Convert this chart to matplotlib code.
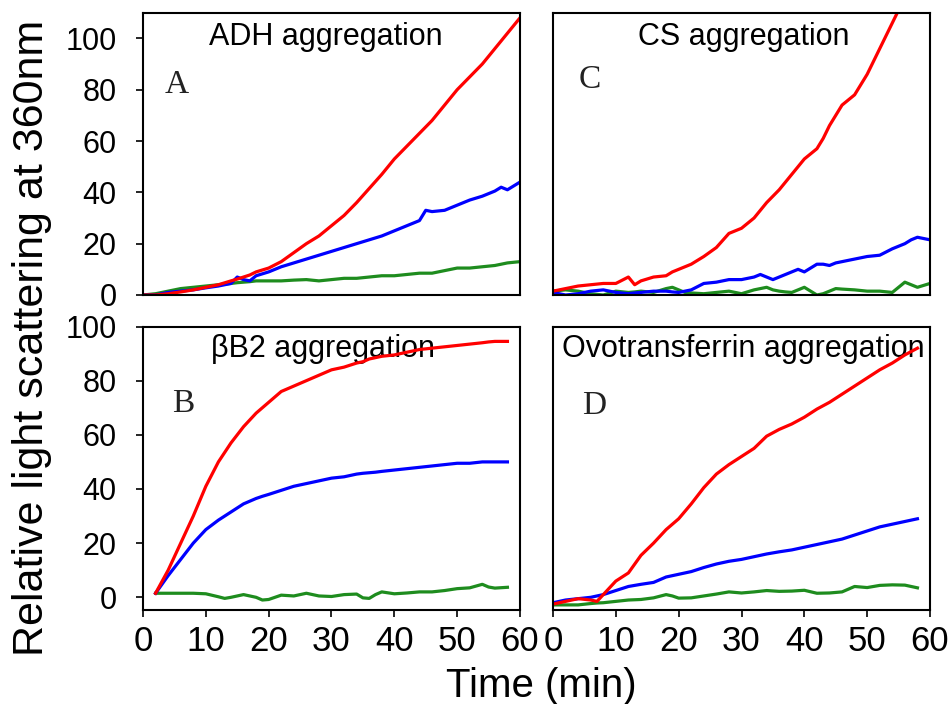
import matplotlib
matplotlib.use("Agg")
import matplotlib.pyplot as plt

plt.rcParams['font.family'] = ['Liberation Sans', 'DejaVu Sans']

# panel A - ADH aggregation
t_a = [0, 2, 4, 6, 8, 10, 12, 14, 15, 16, 17, 18, 20, 22, 24, 26, 28, 30, 32, 34, 36, 38, 40,
       42, 44, 45, 46, 48, 50, 52, 54, 56, 57, 58, 60]
a_red = [0, 0, 0.5, 1.2, 2, 3, 4, 5.5, 6.2, 7, 7.8, 9, 10.5, 13, 16.5, 20, 23, 27, 31, 36, 41.5, 47, 53,
         58, 63, 65.5, 68, 74, 80, 85, 90, 96, 99, 102, 108]
a_blue = [0, 0, 1, 1.5, 2, 2.8, 3.5, 4.5, 7, 6, 5.5, 7.5, 9, 11, 12.5, 14, 15.5, 17, 18.5, 20, 21.5, 23, 25,
          27, 29, 33, 32.5, 33, 35, 37, 38.5, 40.5, 42, 41, 44]
a_green = [0, 0.5, 1.5, 2.5, 3, 3.5, 4, 4.5, 4.8, 5, 5.2, 5.5, 5.5, 5.5, 5.8, 6, 5.5, 6, 6.5, 6.5, 7, 7.5, 7.5,
           8, 8.5, 8.5, 8.5, 9.5, 10.5, 10.5, 11, 11.5, 12, 12.5, 13]

# panel C - CS aggregation
t_c = [0, 2, 4, 6, 8, 10, 12, 13, 14, 16, 18, 19, 20, 21, 22, 24, 26, 28, 30, 32, 33, 34, 35, 36, 37, 38,
       39, 40, 42, 43, 44, 45, 46, 48, 50, 52, 54, 56, 57, 58, 60]
c_red = [1.5, 2.5, 3.5, 4, 4.5, 4.5, 7, 4, 5.5, 7, 7.5, 9, 10, 11, 12, 15, 18.5, 24, 26, 30, 33, 36, 38.5, 41,
         44, 47, 50, 53, 57, 61, 66, 70, 74, 78, 86, 96, 106, 116, 121, 126, 136]
c_blue = [1, 0, 0.5, 1.5, 2, 1, 0.5, 0.8, 1, 1.5, 1.5, 1.2, 1, 1.5, 2, 4.5, 5, 6, 6, 7, 8, 7, 6, 7, 8, 9,
          10, 9, 12, 12, 11.5, 12.5, 13, 14, 15, 15.5, 18, 20, 21.5, 22.5, 21.5]
c_green = [1.5, 2, 1.5, 0.5, 0, 1.5, 1, 1.2, 1.5, 1, 2.5, 3, 2, 1, 0.8, 0.5, 1, 1.5, 0.5, 2, 2.5, 3, 2, 1.5,
           1.2, 1, 2, 3, 0, 0.5, 1.5, 2.5, 2.3, 2, 1.5, 1.5, 1, 5, 4, 3, 4.5]

# panel B - betaB2 aggregation
t_b = [2, 4, 6, 8, 10, 12, 13, 14, 16, 18, 19, 20, 22, 24, 26, 28, 30, 32, 34, 35, 36, 37, 38, 40,
       42, 44, 46, 48, 50, 52, 54, 55, 56, 58]
b_red = [1.5, 10, 20, 30, 41, 50, 53.5, 57, 63, 68, 70, 72, 76, 78, 80, 82, 84, 85, 86.5, 87, 88, 88.5, 89, 89.5,
         90.5, 91.5, 92, 92.5, 93, 93.5, 94, 94.3, 94.5, 94.5]
b_blue = [1.5, 8, 14, 20, 25, 28.5, 30, 31.5, 34.5, 36.5, 37.3, 38, 39.5, 41, 42, 43, 44, 44.5, 45.5, 45.8, 46,
          46.2, 46.5, 47, 47.5, 48, 48.5, 49, 49.5, 49.5, 50, 50, 50, 50]
b_green = [1.5, 1.5, 1.5, 1.5, 1.3, 0.2, -0.4, 0, 1, 0, -1, -0.8, 0.8, 0.5, 1.5, 0.5, 0.3, 1, 1.2, -0.2, -0.4,
           1, 2, 1.3, 1.6, 2, 2, 2.5, 3.2, 3.5, 4.8, 3.8, 3.4, 3.7]

# panel D - Ovotransferrin aggregation
t_d = [0, 2, 4, 6, 7, 8, 10, 12, 14, 16, 18, 19, 20, 22, 24, 26, 28, 30, 32, 34, 36, 38, 40, 42, 44, 46,
       48, 50, 52, 54, 56, 58]
d_red = [-2.5, -1.5, -0.5, -1, -1.5, 1, 6, 9, 15.5, 20, 25, 27, 29, 34.5, 40.5, 45.5, 49, 52, 55, 59.5, 62, 64,
         66.5, 69.5, 72, 75, 78, 81, 84, 86.5, 89.5, 92]
d_blue = [-2, -1, -0.5, 0, 0.5, 1, 2.5, 4, 4.8, 5.5, 7.5, 8, 8.5, 9.5, 11, 12.3, 13.3, 14, 15, 16, 16.8, 17.5,
          18.5, 19.5, 20.5, 21.5, 23, 24.5, 26, 27, 28, 29]
d_green = [-2.8, -2.8, -2.8, -2.3, -2.1, -2, -1.5, -1, -0.8, -0.2, 1, 0.5, -0.3, -0.2, 0.5, 1.2, 2, 1.6, 2, 2.5,
           2.2, 2.3, 2.6, 1.5, 1.6, 2, 4, 3.6, 4.4, 4.6, 4.5, 3.5]

panel_titles = ["ADH aggregation", "CS aggregation", "\u03b2B2 aggregation", "Ovotransferrin aggregation"]
panel_letters = ["A", "C", "B", "D"]
xticks = [0, 10, 20, 30, 40, 50, 60]
yticks = [0, 20, 40, 60, 80, 100]

RED = "#ff0000"
BLUE = "#0000ff"
GREEN = "#1e8c1e"

fig = plt.figure(figsize=(9.5, 7.04), dpi=100)

# axes rectangles [left, bottom, width, height] in figure fractions
W, H = 950.0, 704.0
rects = [
    [143 / W, 1 - 295 / H, 377 / W, 282.3 / H],    # A
    [553 / W, 1 - 295 / H, 377 / W, 282.3 / H],    # C
    [143 / W, 1 - 609.5 / H, 377 / W, 283 / H],    # B
    [553 / W, 1 - 609.5 / H, 377 / W, 283 / H],    # D
]
data = [
    (t_a, a_red, a_blue, a_green),
    (t_c, c_red, c_blue, c_green),
    (t_b, b_red, b_blue, b_green),
    (t_d, d_red, d_blue, d_green),
]
ylims = [(0, 110), (0, 110), (-4.5, 100), (-4.5, 100)]
title_pos = [(0.485, 0.886), (0.507, 0.886), (0.477, 0.893), (0.504, 0.892)]
letter_pos = [(0.09, 0.716), (0.098, 0.733), (0.106, 0.699), (0.108, 0.691)]

for i in range(4):
    ax = fig.add_axes(rects[i])
    t, r, b, g = data[i]
    ax.plot(t, g, color=GREEN, lw=2.3)
    ax.plot(t, b, color=BLUE, lw=2.3)
    ax.plot(t, r, color=RED, lw=2.3)
    ax.set_xlim(0, 60)
    ax.set_ylim(*ylims[i])
    for s in ax.spines.values():
        s.set_linewidth(1.5)
        s.set_color("black")
    ax.text(title_pos[i][0], title_pos[i][1], panel_titles[i], transform=ax.transAxes,
            ha="center", va="baseline", fontsize=22, zorder=1)
    ax.text(letter_pos[i][0], letter_pos[i][1], panel_letters[i], transform=ax.transAxes,
            ha="center", va="baseline", fontsize=24, family="Liberation Serif", color="#222222")
    # y ticks only on left column, x ticks only on bottom row
    if i in (0, 2):
        ax.set_yticks(yticks)
        ax.tick_params(axis="y", direction="out", length=5, width=1.2, pad=14, labelsize=22)
    else:
        ax.set_yticks([])
    if i in (2, 3):
        ax.set_xticks(xticks)
        ax.tick_params(axis="x", direction="out", length=5, width=1.2, pad=6, labelsize=25)
    else:
        ax.set_xticks([])

fig.text(32 / W, 1 - 338 / H, "Relative light scattering at 360nm", rotation=90,
         ha="center", va="center", fontsize=31)
fig.text(541 / W, 1 - 697 / H, "Time (min)", ha="center", va="baseline", fontsize=29)

fig.savefig("out.png", dpi=100)
